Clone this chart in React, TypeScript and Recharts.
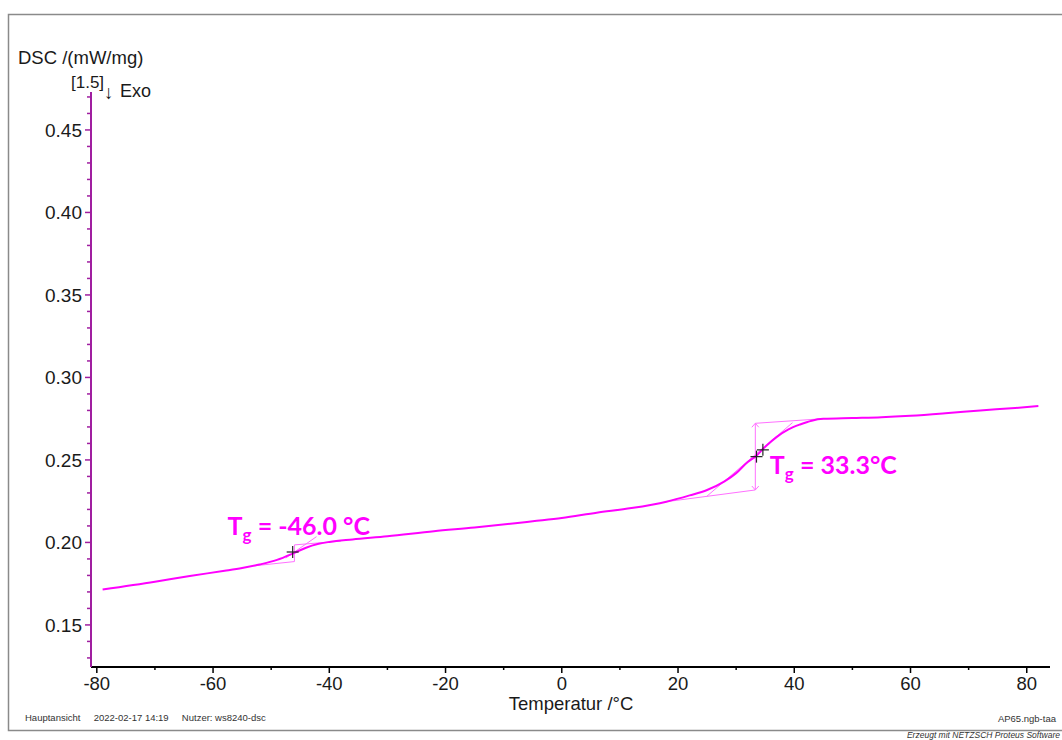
import React from "react";
import { ComposedChart, Line, XAxis, YAxis, ReferenceLine, ReferenceDot } from "recharts";

const temperature = [-79, -70, -64, -58, -55, -52, -49, -46, -44, -42, -40, -36, -30, -22, -15, -8, -5, 0, 6, 12, 18, 22, 25, 28, 30, 32, 33.3, 35, 37, 39, 41, 43, 45, 50, 55, 60, 66, 72, 78, 82];
const dscValues = [0.1715, 0.1762, 0.1797, 0.1828, 0.1845, 0.1866, 0.1894, 0.1937, 0.1968, 0.199, 0.2003, 0.2018, 0.2037, 0.2068, 0.209, 0.2116, 0.2128, 0.2148, 0.218, 0.2208, 0.2247, 0.2285, 0.2318, 0.237, 0.242, 0.2488, 0.252, 0.258, 0.264, 0.2685, 0.2715, 0.2738, 0.2749, 0.2754, 0.2759, 0.2768, 0.2783, 0.28, 0.2815, 0.2827];

const xTicks = [-80, -70, -60, -50, -40, -30, -20, -10, 0, 10, 20, 30, 40, 50, 60, 70, 80];
const yTicks = [0.13, 0.14, 0.15, 0.16, 0.17, 0.18, 0.19, 0.2, 0.21, 0.22, 0.23, 0.24, 0.25, 0.26, 0.27, 0.28, 0.29, 0.3, 0.31, 0.32, 0.33, 0.34, 0.35, 0.36, 0.37, 0.38, 0.39, 0.4, 0.41, 0.42, 0.43, 0.44, 0.45, 0.46, 0.47];

// Glass transition construction lines [x1, y1, x2, y2]
const tg1Segments = [
  [-53, 0.1858, -46, 0.1884],
  [-46, 0.1884, -46, 0.1985],
  [-47.5, 0.1905, -42.2, 0.2035],
  [-46, 0.1985, -38, 0.2008],
];
const tg2Segments = [
  [18, 0.2247, 33.3, 0.2318],
  [33.3, 0.2318, 33.3, 0.2722],
  [33.3, 0.2722, 45, 0.275],
  [24.9, 0.2278, 39.7, 0.2726],
  // arrow heads
  [32.7, 0.2698, 33.3, 0.2722],
  [33.9, 0.2698, 33.3, 0.2722],
  [32.7, 0.2342, 33.3, 0.2318],
  [33.9, 0.2342, 33.3, 0.2318],
];
const crossPoints = [
  [-46.3, 0.1942],
  [33.5, 0.252],
  [34.6, 0.2561],
];
const tgLabels = [
  { t: -57.5, v: 0.2045, text: " = -46.0 °C" },
  { t: 35.8, v: 0.2415, text: " = 33.3°C" },
];

const data = temperature.map((t, i) => ({ t, dsc: dscValues[i] }));

const SANS = "'Liberation Sans', Arial, sans-serif";
const PURPLE = "#a01ea0";
const MAGENTA = "#ff00ff";

const XTick = (props: any) => {
  const { x, y, payload } = props;
  const v = payload.value;
  const major = Math.round(v) % 20 === 0;
  return (
    <g>
      <line x1={x} x2={x} y1={y} y2={y + (major ? 6 : 3)} stroke="#000" strokeWidth={1.5} />
      {major && (
        <text x={x} y={y + 23} textAnchor="middle" fontFamily={SANS} fontSize={18.5} fill="#1a1a1a">
          {v}
        </text>
      )}
    </g>
  );
};

const YTick = (props: any) => {
  const { x, y, payload } = props;
  const v = payload.value;
  const major = Math.round(v * 100) % 5 === 0;
  return (
    <g>
      <line x1={x} x2={x - (major ? 6 : 4)} y1={y} y2={y} stroke={PURPLE} strokeWidth={1.5} />
      {major && (
        <text x={x - 9} y={y} dy="0.35em" textAnchor="end" fontFamily={SANS} fontSize={19} fill="#1a1a1a">
          {v.toFixed(2)}
        </text>
      )}
    </g>
  );
};

const CrossShape = (props: any) => {
  const { cx, cy } = props;
  return (
    <g>
      <line x1={cx - 6} x2={cx + 6} y1={cy} y2={cy} stroke="#222" strokeWidth={1.2} />
      <line x1={cx} x2={cx} y1={cy - 6} y2={cy + 6} stroke="#222" strokeWidth={1.2} />
    </g>
  );
};

const makeLabelShape = (text: string) => (props: any) => {
  const { cx, cy } = props;
  return (
    <text x={cx} y={cy} fill={MAGENTA} fontFamily="Lato, 'Open Sans', sans-serif" fontWeight={700} fontSize={25} style={{ whiteSpace: "pre" }}>
      T
      <tspan fontSize={17} dy={6}>g</tspan>
      <tspan dy={-6}>{text}</tspan>
    </text>
  );
};

export default function App() {
  return (
    <div style={{ position: "absolute", left: 0, top: 0, width: 1062, height: 740, background: "#fff", overflow: "hidden" }}>
      <ComposedChart
        width={1062}
        height={740}
        data={data}
        margin={{ top: 92, right: 12, bottom: 43, left: 31 }}
      >
        <XAxis
          dataKey="t"
          type="number"
          domain={[-81, 84]}
          ticks={xTicks}
          interval={0}
          allowDataOverflow
          height={30}
          tickSize={0}
          tickMargin={0}
          tickLine={false}
          axisLine={{ stroke: "#000", strokeWidth: 2 }}
          tick={<XTick />}
        />
        <YAxis
          type="number"
          domain={[0.1245, 0.473]}
          ticks={yTicks}
          interval={0}
          allowDataOverflow
          width={60}
          tickSize={0}
          tickMargin={0}
          tickLine={false}
          axisLine={{ stroke: PURPLE, strokeWidth: 2 }}
          tick={<YTick />}
        />
        {tg1Segments.concat(tg2Segments).map((s, i) => (
          <ReferenceLine
            key={"seg" + i}
            segment={[{ x: s[0], y: s[1] }, { x: s[2], y: s[3] }]}
            stroke="#ff70ff"
            strokeWidth={1}
          />
        ))}
        <Line
          dataKey="dsc"
          type="monotone"
          stroke={MAGENTA}
          strokeWidth={2}
          dot={false}
          isAnimationActive={false}
        />
        {crossPoints.map((p, i) => (
          <ReferenceDot key={"c" + i} x={p[0]} y={p[1]} r={6} shape={<CrossShape />} />
        ))}
        {tgLabels.map((l, i) => (
          <ReferenceDot key={"l" + i} x={l.t} y={l.v} r={1} shape={makeLabelShape(l.text)} />
        ))}
      </ComposedChart>

      {/* frame and texts */}
      <svg width={1062} height={740} style={{ position: "absolute", left: 0, top: 0, pointerEvents: "none" }}>
        <rect x={8.5} y={14.5} width={1070} height={716} fill="none" stroke="#8a8a8a" strokeWidth={1.5} />
        <text x={18} y={64} fontFamily={SANS} fontSize={18.5} fill="#1a1a1a">DSC /(mW/mg)</text>
        <text x={71} y={88} fontFamily={SANS} fontSize={17} fill="#1a1a1a">[1.5]</text>
        <text x={104} y={99} fontFamily={SANS} fontSize={19} fill="#1a1a1a">↓</text>
        <text x={120} y={97} fontFamily={SANS} fontSize={18} fill="#1a1a1a">Exo</text>
        <text x={571} y={710} textAnchor="middle" fontFamily={SANS} fontSize={18.5} fill="#1a1a1a">Temperatur /°C</text>
        <text x={25} y={721} fontFamily={SANS} fontSize={9.5} fill="#333" style={{ whiteSpace: "pre" }}>Hauptansicht     2022-02-17 14:19     Nutzer: ws8240-dsc</text>
        <text x={1056} y={722} textAnchor="end" fontFamily={SANS} fontSize={9.5} fill="#333">AP65.ngb-taa</text>
        <text x={1060} y={738} textAnchor="end" fontFamily={SANS} fontStyle="italic" fontSize={8.5} fill="#333">Erzeugt mit NETZSCH Proteus Software</text>
      </svg>
    </div>
  );
}
